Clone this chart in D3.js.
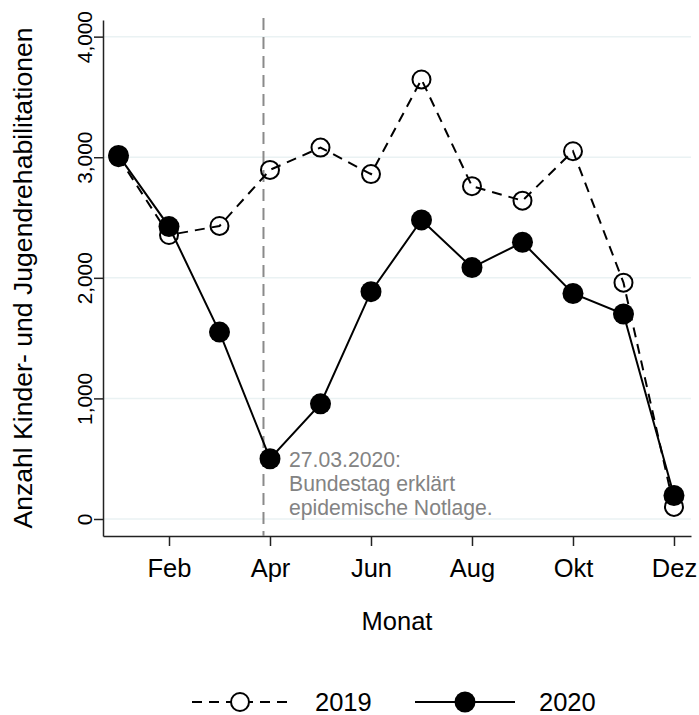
<!DOCTYPE html>
<html>
<head>
<meta charset="utf-8">
<script src="https://cdn.jsdelivr.net/npm/d3@7"></script>
<style>
  body { margin: 0; background: #fff; }
  text { font-family: "Liberation Sans", Arial, sans-serif; }
</style>
</head>
<body>
<div id="chart"></div>
<script>
// months 1..12, labels for the even ones
var months = [1, 2, 3, 4, 5, 6, 7, 8, 9, 10, 11, 12];
var tickMonths = [2, 4, 6, 8, 10, 12];
var tickNames = ["Feb", "Apr", "Jun", "Aug", "Okt", "Dez"];
var yTicks = [0, 1000, 2000, 3000, 4000];

var values2019 = [3000, 2355, 2430, 2895, 3080, 2860, 3645, 2760, 2640, 3050, 1960, 100];
var values2020 = [3015, 2425, 1550, 500, 955, 1885, 2480, 2085, 2295, 1870, 1700, 195];

// 27.03.2020 as month position
var eventMonth = 3 + 27 / 31;
var eventText = ["27.03.2020:", "Bundestag erklärt", "epidemische Notlage."];

var width = 699, height = 715;

var svg = d3.select("#chart")
    .append("svg")
    .attr("width", width)
    .attr("height", height);

var x = d3.scaleLinear()
    .domain([0.693, 12.337])
    .range([103, 691]);

var y = d3.scaleLinear()
    .domain([-141, 4138])
    .range([536, 20]);

// grid
svg.append("g")
    .selectAll("line")
    .data(yTicks)
    .enter()
    .append("line")
    .attr("x1", x.range()[0])
    .attr("x2", x.range()[1])
    .attr("y1", d => y(d))
    .attr("y2", d => y(d))
    .attr("stroke", "#eaf2f3")
    .attr("stroke-width", 1.5);

// Y axis
var yAxis = svg.append("g")
    .attr("transform", "translate(" + x.range()[0] + ",0)")
    .call(d3.axisLeft(y).tickValues(yTicks).tickSize(9).tickSizeOuter(0).tickFormat(d3.format(",")));
yAxis.select(".domain").attr("stroke", "#222").attr("stroke-width", 1.5);
yAxis.selectAll(".tick line").attr("stroke", "#222").attr("stroke-width", 1.5);
yAxis.selectAll("text")
    .attr("x", 0)
    .attr("y", 0)
    .attr("dy", null)
    .attr("transform", "translate(-11,0) rotate(-90)")
    .style("text-anchor", "middle")
    .style("font-size", "20.8px")
    .style("font-family", "Liberation Sans, Arial, sans-serif")
    .attr("fill", "#000");

// X axis
var xAxis = svg.append("g")
    .attr("transform", "translate(0," + y.range()[0] + ")")
    .call(d3.axisBottom(x).tickValues(tickMonths).tickSize(10).tickSizeOuter(0)
        .tickFormat((d, i) => tickNames[i]));
xAxis.select(".domain").attr("stroke", "#222").attr("stroke-width", 1.5);
xAxis.selectAll(".tick line").attr("stroke", "#222").attr("stroke-width", 1.5);
xAxis.selectAll("text")
    .attr("y", 0)
    .attr("dy", null)
    .attr("transform", "translate(0,41)")
    .style("font-size", "25.5px")
    .style("font-family", "Liberation Sans, Arial, sans-serif")
    .attr("fill", "#000");

// axis titles
svg.append("text")
    .attr("transform", "translate(32," + ((y.range()[0] + y.range()[1]) / 2) + ") rotate(-90)")
    .attr("text-anchor", "middle")
    .style("font-size", "26.6px")
    .text("Anzahl Kinder- und Jugendrehabilitationen");

svg.append("text")
    .attr("x", (x.range()[0] + x.range()[1]) / 2)
    .attr("y", 630)
    .attr("text-anchor", "middle")
    .style("font-size", "25.5px")
    .text("Monat");

// event line
svg.append("line")
    .attr("x1", x(eventMonth))
    .attr("x2", x(eventMonth))
    .attr("y1", 18)
    .attr("y2", y.range()[0])
    .attr("stroke", "#8a8a8a")
    .attr("stroke-width", 2)
    .attr("stroke-dasharray", "12,7");

var line = d3.line()
    .x((d, i) => x(months[i]))
    .y(d => y(d));

// 2019
svg.append("path")
    .datum(values2019)
    .attr("d", line)
    .attr("fill", "none")
    .attr("stroke", "#000")
    .attr("stroke-width", 2)
    .attr("stroke-dasharray", "10,7");

svg.selectAll(".p2019")
    .data(values2019)
    .enter()
    .append("circle")
    .attr("class", "p2019")
    .attr("cx", (d, i) => x(months[i]))
    .attr("cy", d => y(d))
    .attr("r", 9)
    .attr("fill", "none")
    .attr("stroke", "#000")
    .attr("stroke-width", 2);

// 2020
svg.append("path")
    .datum(values2020)
    .attr("d", line)
    .attr("fill", "none")
    .attr("stroke", "#000")
    .attr("stroke-width", 2);

svg.selectAll(".p2020")
    .data(values2020)
    .enter()
    .append("circle")
    .attr("class", "p2020")
    .attr("cx", (d, i) => x(months[i]))
    .attr("cy", d => y(d))
    .attr("r", 10.5)
    .attr("fill", "#000");

// annotation
svg.append("text")
    .attr("x", 289)
    .attr("y", 467)
    .attr("fill", "#838383")
    .style("font-size", "21.2px")
    .selectAll("tspan")
    .data(eventText)
    .enter()
    .append("tspan")
    .attr("x", 289)
    .attr("dy", (d, i) => i === 0 ? 0 : 24)
    .text(d => d);

// legend
var legY = 702;
var leg = svg.append("g");
leg.append("line")
    .attr("x1", 192).attr("x2", 292)
    .attr("y1", legY).attr("y2", legY)
    .attr("stroke", "#000").attr("stroke-width", 2)
    .attr("stroke-dasharray", "10,7");
leg.append("circle")
    .attr("cx", 240).attr("cy", legY).attr("r", 9)
    .attr("fill", "#fff").attr("stroke", "#000").attr("stroke-width", 2);
leg.append("text")
    .attr("x", 315).attr("y", 711)
    .style("font-size", "25.5px")
    .text("2019");

leg.append("line")
    .attr("x1", 415).attr("x2", 515)
    .attr("y1", legY).attr("y2", legY)
    .attr("stroke", "#000").attr("stroke-width", 2);
leg.append("circle")
    .attr("cx", 465).attr("cy", legY).attr("r", 10.5)
    .attr("fill", "#000");
leg.append("text")
    .attr("x", 539).attr("y", 711)
    .style("font-size", "25.5px")
    .text("2020");
</script>
</body>
</html>
